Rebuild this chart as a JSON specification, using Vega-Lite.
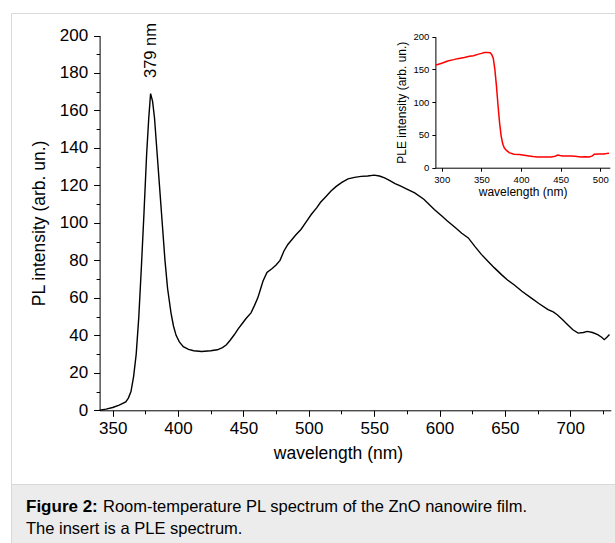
{
  "$schema": "https://vega.github.io/schema/vega-lite/v6.json",
  "padding": {"left": 10, "top": 12, "right": 0, "bottom": 0},
  "autosize": {"type": "pad"},
  "background": "white",
  "spacing": 0,
  "bounds": "flush",
  "config": {
    "font": "Liberation Sans",
    "axis": {
      "domainColor": "black", "tickColor": "black", "labelColor": "black", "titleColor": "black",
      "grid": false, "labelFont": "Liberation Sans", "titleFont": "Liberation Sans",
      "titleFontWeight": "normal", "domainWidth": 1, "tickWidth": 1, "labelOverlap": false, "labelFlush": false
    }
  },
  "datasets": {
    "pl": [
      {"wavelength": 340, "intensity": 0}, {"wavelength": 345, "intensity": 0.6}, {"wavelength": 350, "intensity": 1.5},
      {"wavelength": 355, "intensity": 2.8}, {"wavelength": 360, "intensity": 4.5}, {"wavelength": 362, "intensity": 6.5},
      {"wavelength": 364, "intensity": 10}, {"wavelength": 366, "intensity": 18}, {"wavelength": 368, "intensity": 30},
      {"wavelength": 370, "intensity": 50}, {"wavelength": 372, "intensity": 77}, {"wavelength": 374, "intensity": 106},
      {"wavelength": 376, "intensity": 137}, {"wavelength": 377.6, "intensity": 156}, {"wavelength": 379, "intensity": 169},
      {"wavelength": 380.5, "intensity": 165}, {"wavelength": 382, "intensity": 156}, {"wavelength": 384, "intensity": 137},
      {"wavelength": 386, "intensity": 118}, {"wavelength": 388, "intensity": 99}, {"wavelength": 390, "intensity": 80},
      {"wavelength": 392, "intensity": 65}, {"wavelength": 394.6, "intensity": 52}, {"wavelength": 396.5, "intensity": 45},
      {"wavelength": 398.5, "intensity": 40}, {"wavelength": 401, "intensity": 36.5}, {"wavelength": 404, "intensity": 34},
      {"wavelength": 408, "intensity": 32.5}, {"wavelength": 412, "intensity": 31.8}, {"wavelength": 418, "intensity": 31.4},
      {"wavelength": 425, "intensity": 31.8}, {"wavelength": 430, "intensity": 32.3}, {"wavelength": 434, "intensity": 33.5},
      {"wavelength": 437, "intensity": 35}, {"wavelength": 440, "intensity": 37.5}, {"wavelength": 443, "intensity": 40.3},
      {"wavelength": 446, "intensity": 43.5}, {"wavelength": 449.4, "intensity": 46.6}, {"wavelength": 452, "intensity": 49},
      {"wavelength": 455.8, "intensity": 52}, {"wavelength": 458.5, "intensity": 56}, {"wavelength": 461, "intensity": 60},
      {"wavelength": 463, "intensity": 64.5}, {"wavelength": 465, "intensity": 69}, {"wavelength": 468, "intensity": 73.5},
      {"wavelength": 472, "intensity": 75.7}, {"wavelength": 475, "intensity": 77.5}, {"wavelength": 478, "intensity": 80},
      {"wavelength": 481, "intensity": 85}, {"wavelength": 484, "intensity": 88.5}, {"wavelength": 487, "intensity": 91},
      {"wavelength": 490, "intensity": 93.5}, {"wavelength": 494, "intensity": 96.5}, {"wavelength": 498, "intensity": 100.5},
      {"wavelength": 502, "intensity": 104.6}, {"wavelength": 506, "intensity": 108}, {"wavelength": 509, "intensity": 111},
      {"wavelength": 513, "intensity": 114}, {"wavelength": 517, "intensity": 117}, {"wavelength": 521, "intensity": 119.5},
      {"wavelength": 525, "intensity": 121.5}, {"wavelength": 530, "intensity": 123.5}, {"wavelength": 535, "intensity": 124.3},
      {"wavelength": 540, "intensity": 124.8}, {"wavelength": 545, "intensity": 125}, {"wavelength": 550, "intensity": 125.5},
      {"wavelength": 554, "intensity": 125}, {"wavelength": 558, "intensity": 124}, {"wavelength": 562, "intensity": 122.5},
      {"wavelength": 566, "intensity": 121}, {"wavelength": 570, "intensity": 119.7}, {"wavelength": 575, "intensity": 118},
      {"wavelength": 581, "intensity": 116}, {"wavelength": 588, "intensity": 112.6}, {"wavelength": 596, "intensity": 107.2},
      {"wavelength": 602, "intensity": 103.5}, {"wavelength": 606, "intensity": 101}, {"wavelength": 612, "intensity": 97.5},
      {"wavelength": 617, "intensity": 94.5}, {"wavelength": 622, "intensity": 92}, {"wavelength": 627, "intensity": 87.5},
      {"wavelength": 632, "intensity": 83.2}, {"wavelength": 637, "intensity": 79.5}, {"wavelength": 642, "intensity": 76},
      {"wavelength": 648, "intensity": 72}, {"wavelength": 652, "intensity": 69.5}, {"wavelength": 657, "intensity": 67},
      {"wavelength": 663, "intensity": 63.5}, {"wavelength": 670, "intensity": 60}, {"wavelength": 676, "intensity": 57},
      {"wavelength": 683, "intensity": 53.7}, {"wavelength": 687, "intensity": 52.5}, {"wavelength": 690, "intensity": 51},
      {"wavelength": 694, "intensity": 48.5}, {"wavelength": 698, "intensity": 45.7}, {"wavelength": 702, "intensity": 43},
      {"wavelength": 706, "intensity": 41.2}, {"wavelength": 710, "intensity": 41.5}, {"wavelength": 713, "intensity": 42.1},
      {"wavelength": 717, "intensity": 41.5}, {"wavelength": 721, "intensity": 40.4}, {"wavelength": 724, "intensity": 39},
      {"wavelength": 726, "intensity": 37.7}, {"wavelength": 728, "intensity": 39}, {"wavelength": 730, "intensity": 40.4}
    ],
    "ple": [
      {"wavelength": 292.8, "ple": 156.7}, {"wavelength": 300, "ple": 159.5}, {"wavelength": 307.6, "ple": 163},
      {"wavelength": 315, "ple": 165}, {"wavelength": 320, "ple": 166.5}, {"wavelength": 328.5, "ple": 168.3},
      {"wavelength": 335, "ple": 170}, {"wavelength": 340, "ple": 171}, {"wavelength": 345.4, "ple": 173},
      {"wavelength": 350, "ple": 174.5}, {"wavelength": 354, "ple": 176}, {"wavelength": 358, "ple": 176},
      {"wavelength": 361, "ple": 175.5}, {"wavelength": 363, "ple": 173}, {"wavelength": 365, "ple": 167},
      {"wavelength": 367, "ple": 150}, {"wavelength": 369, "ple": 125}, {"wavelength": 371, "ple": 95},
      {"wavelength": 373, "ple": 68}, {"wavelength": 375, "ple": 48}, {"wavelength": 377, "ple": 36},
      {"wavelength": 379, "ple": 30}, {"wavelength": 382, "ple": 26}, {"wavelength": 385, "ple": 23},
      {"wavelength": 391, "ple": 20.5}, {"wavelength": 398, "ple": 20}, {"wavelength": 404, "ple": 19},
      {"wavelength": 410, "ple": 18}, {"wavelength": 415, "ple": 17}, {"wavelength": 421, "ple": 16.4},
      {"wavelength": 430, "ple": 16.4}, {"wavelength": 437.8, "ple": 16.4}, {"wavelength": 443, "ple": 17.5},
      {"wavelength": 446.3, "ple": 19.4}, {"wavelength": 449, "ple": 18.5}, {"wavelength": 452.6, "ple": 17.9},
      {"wavelength": 458, "ple": 18}, {"wavelength": 463, "ple": 17.9}, {"wavelength": 468, "ple": 17.5},
      {"wavelength": 475.7, "ple": 16.4}, {"wavelength": 481, "ple": 16.8}, {"wavelength": 486, "ple": 16.4},
      {"wavelength": 490, "ple": 18}, {"wavelength": 492.4, "ple": 20.5}, {"wavelength": 498, "ple": 21},
      {"wavelength": 504, "ple": 21}, {"wavelength": 508, "ple": 21.5}, {"wavelength": 511, "ple": 22}
    ],
    "peak": [{"wavelength": 379, "intensity": 192, "label": "379 nm"}],
    "caption": [
      {"line": "1", "part": "bold", "text": "Figure 2:"},
      {"line": "1", "part": "rest", "text": "Room-temperature PL spectrum of the ZnO nanowire film."},
      {"line": "2", "part": "line2", "text": "The insert is a PLE spectrum."}
    ]
  },
  "vconcat": [
    {
      "width": 606,
      "height": 471,
      "view": {"stroke": "#d9d9d9", "fill": "white"},
      "resolve": {
        "scale": {"x": "independent", "y": "independent"},
        "axis": {"x": "independent", "y": "independent"}
      },
      "layer": [
        {
          "data": {"name": "pl"},
          "mark": {"type": "line", "color": "black", "strokeWidth": 1.4},
          "encoding": {
            "x": {
              "field": "wavelength", "type": "quantitative",
              "scale": {"domain": [340, 731], "range": [88.6, 599.8], "nice": false, "zero": false},
              "axis": {
                "orient": "bottom", "offset": -73.7, "values": [350, 400, 450, 500, 550, 600, 650, 700],
                "title": "wavelength (nm)", "labelFontSize": 17, "titleFontSize": 17.5, "tickSize": 6,
                "labelPadding": 4, "titlePadding": 8, "titleX": 327
              }
            },
            "y": {
              "field": "intensity", "type": "quantitative",
              "scale": {"domain": [0, 200], "range": [397.3, 22.5], "nice": false, "zero": false},
              "axis": {
                "orient": "left", "offset": -88.6, "values": [0, 20, 40, 60, 80, 100, 120, 140, 160, 180, 200],
                "title": "PL intensity (arb. un.)", "labelFontSize": 17, "titleFontSize": 17.5, "tickSize": 6,
                "labelPadding": 6, "titlePadding": 11
              }
            }
          }
        },
        {
          "data": {"name": "peak"},
          "mark": {"type": "text", "angle": 270, "align": "center", "baseline": "middle", "fontSize": 16.5, "font": "Liberation Sans", "color": "black"},
          "encoding": {
            "x": {
              "field": "wavelength", "type": "quantitative",
              "scale": {"domain": [340, 731], "range": [88.6, 599.8], "nice": false, "zero": false},
              "axis": {
                "orient": "bottom", "offset": -73.7, "values": [375, 425, 475, 525, 575, 625, 675, 725],
                "labels": false, "domain": false, "tickSize": 3.5, "title": null
              }
            },
            "y": {
              "field": "intensity", "type": "quantitative",
              "scale": {"domain": [0, 200], "range": [397.3, 22.5], "nice": false, "zero": false},
              "axis": {
                "orient": "left", "offset": -88.6, "values": [10, 30, 50, 70, 90, 110, 130, 150, 170, 190],
                "labels": false, "domain": false, "tickSize": 3.5, "title": null
              }
            },
            "text": {"field": "label"}
          }
        },
        {
          "data": {"name": "ple"},
          "mark": {"type": "line", "color": "#ff0000", "strokeWidth": 1.5},
          "encoding": {
            "x": {
              "field": "wavelength", "type": "quantitative",
              "scale": {"domain": [292, 512], "range": [424.4, 598.8], "nice": false, "zero": false},
              "axis": {
                "orient": "bottom", "offset": -316.3, "values": [300, 350, 400, 450, 500],
                "title": "wavelength (nm)", "labelFontSize": 9.5, "titleFontSize": 12, "tickSize": 3.5,
                "labelPadding": 3, "titlePadding": 3
              }
            },
            "y": {
              "field": "ple", "type": "quantitative",
              "scale": {"domain": [0, 200], "range": [154.7, 23.7], "nice": false, "zero": false},
              "axis": {
                "orient": "left", "offset": -424.4, "values": [0, 50, 100, 150, 200],
                "title": "PLE intensity (arb. un.)", "labelFontSize": 9.5, "titleFontSize": 12, "tickSize": 3.5,
                "labelPadding": 3, "titlePadding": 5
              }
            }
          }
        }
      ]
    },
    {
      "width": 606,
      "height": 61,
      "view": {"fill": "#ececec", "stroke": "#d9d9d9"},
      "data": {"name": "caption"},
      "encoding": {
        "x": {"datum": 0, "type": "quantitative", "scale": {"domain": [0, 1]}, "axis": null},
        "y": {"field": "line", "type": "ordinal", "scale": {"type": "point", "padding": 0.886}, "axis": null},
        "text": {"field": "text"}
      },
      "layer": [
        {
          "transform": [{"filter": "datum.part == 'bold'"}],
          "mark": {"type": "text", "align": "left", "baseline": "middle", "fontWeight": "bold", "fontSize": 17, "dx": 15, "dy": 4, "font": "Liberation Sans", "color": "black"}
        },
        {
          "transform": [{"filter": "datum.part == 'rest'"}],
          "mark": {"type": "text", "align": "left", "baseline": "middle", "fontSize": 16.5, "dx": 92, "dy": 4, "font": "Liberation Sans", "color": "black"}
        },
        {
          "transform": [{"filter": "datum.part == 'line2'"}],
          "mark": {"type": "text", "align": "left", "baseline": "middle", "fontSize": 16.5, "dx": 15, "dy": 3, "font": "Liberation Sans", "color": "black"}
        }
      ]
    }
  ]
}
